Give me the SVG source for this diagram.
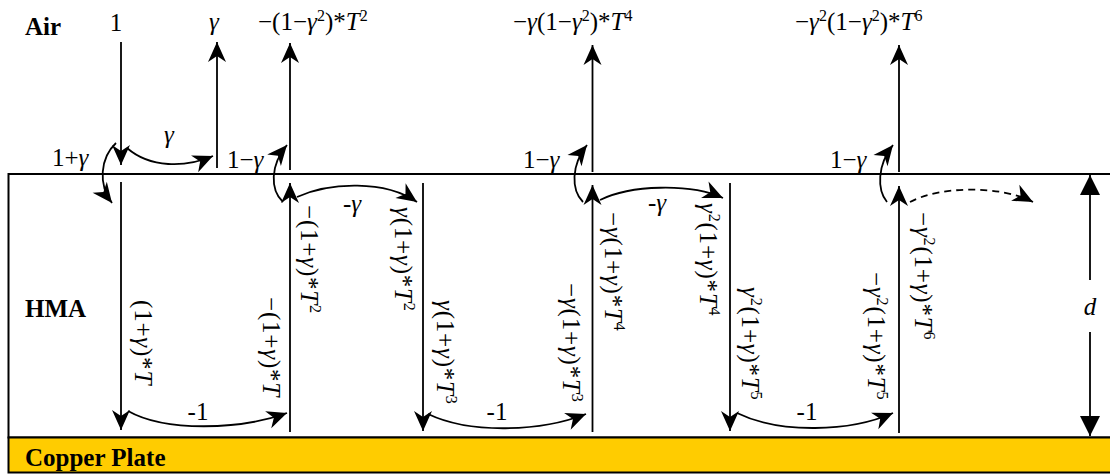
<svg xmlns="http://www.w3.org/2000/svg" width="1110" height="474" viewBox="0 0 1110 474">
<defs>
<marker id="ah" markerUnits="userSpaceOnUse" markerWidth="24" markerHeight="24" viewBox="-22 -11 24 22" refX="0" refY="0" orient="auto">
<path d="M0,0 L-20,-9 L-14,0 L-20,9 Z" fill="#000"/>
</marker>
<marker id="tri" markerUnits="userSpaceOnUse" markerWidth="24" markerHeight="24" viewBox="-22 -11 24 22" refX="0" refY="0" orient="auto">
<path d="M0,0 L-20,-10 L-20,10 Z" fill="#000"/>
</marker>
</defs>

<g id="layers">
<rect id="hma" x="8.5" y="174" width="1110" height="263.5" fill="#fff" stroke="#000" stroke-width="2"/>
<rect id="copper" x="8.5" y="437.5" width="1110" height="35" fill="#FFCC00" stroke="#000" stroke-width="2"/>
<text x="25" y="35" font-family="Liberation Serif" font-size="25" font-weight="bold">Air</text>
<text x="25" y="317" font-family="Liberation Serif" font-size="25" font-weight="bold">HMA</text>
<text x="25" y="466" font-family="Liberation Serif" font-size="25" font-weight="bold">Copper Plate</text>
</g>

<g id="connectors" stroke="#000" stroke-width="1.8" fill="none">
<line x1="121" y1="42" x2="121" y2="165" marker-end="url(#ah)"/>
<line x1="217" y1="168" x2="217" y2="42" marker-end="url(#ah)"/>
<line x1="290" y1="170" x2="290" y2="43" marker-end="url(#ah)"/>
<line x1="592.5" y1="172" x2="592.5" y2="45" marker-end="url(#ah)"/>
<line x1="899" y1="172" x2="899" y2="45" marker-end="url(#ah)"/>

<line x1="121" y1="182" x2="121" y2="430" marker-end="url(#ah)"/>
<line x1="290" y1="432" x2="290" y2="183" marker-end="url(#ah)"/>
<line x1="423" y1="183" x2="423" y2="431" marker-end="url(#ah)"/>
<line x1="592.5" y1="432" x2="592.5" y2="185" marker-end="url(#ah)"/>
<line x1="730" y1="183" x2="730" y2="431" marker-end="url(#ah)"/>
<line x1="899" y1="433" x2="899" y2="186" marker-end="url(#ah)"/>

<line x1="1090" y1="280" x2="1090" y2="175" marker-end="url(#tri)"/>
<line x1="1090" y1="332" x2="1090" y2="436" marker-end="url(#tri)"/>

<path d="M116,143 C100,158 98,185 112,203" marker-end="url(#ah)"/>
<path d="M127,148 C150,168 185,168 213,156" marker-end="url(#ah)"/>
<path d="M283,202 C270,190 270,165 287,145" marker-end="url(#ah)"/>
<path d="M297,197 C330,182 385,180 417,202" marker-end="url(#ah)"/>
<path d="M128,411 C165,432 240,430 287,413" marker-end="url(#ah)"/>
<path d="M583,202 C571,190 571,165 587,145" marker-end="url(#ah)"/>
<path d="M600,200 C630,185 690,183 723,198" marker-end="url(#ah)"/>
<path d="M428,414 C470,434 540,432 586,414" marker-end="url(#ah)"/>
<path d="M887,202 C877,190 877,165 893,145" marker-end="url(#ah)"/>
<path d="M910,202 C940,186 1000,185 1033,202" stroke-dasharray="7 5" marker-end="url(#ah)"/>
<path d="M737,413 C780,434 850,432 893,413" marker-end="url(#ah)"/>
</g>

<g id="labels">
<text x="116" y="31" text-anchor="middle" font-family="Liberation Serif" font-size="25">1</text>
<text x="214" y="30" text-anchor="middle" font-style="italic" font-family="Liberation Serif" font-size="25">γ</text>
<text x="258" y="30" font-family="Liberation Serif" font-size="25">−(1−<tspan font-style="italic">γ</tspan><tspan font-size="16" dy="-9">2</tspan><tspan dy="9">)*</tspan><tspan font-style="italic">T</tspan><tspan font-size="16" dy="-9">2</tspan></text>
<text x="513" y="30" font-family="Liberation Serif" font-size="25">−<tspan font-style="italic">γ</tspan>(1−<tspan font-style="italic">γ</tspan><tspan font-size="16" dy="-9">2</tspan><tspan dy="9">)*</tspan><tspan font-style="italic">T</tspan><tspan font-size="16" dy="-9">4</tspan></text>
<text x="795" y="30" font-family="Liberation Serif" font-size="25">−<tspan font-style="italic">γ</tspan><tspan font-size="16" dy="-9">2</tspan><tspan dy="9">(1−</tspan><tspan font-style="italic">γ</tspan><tspan font-size="16" dy="-9">2</tspan><tspan dy="9">)*</tspan><tspan font-style="italic">T</tspan><tspan font-size="16" dy="-9">6</tspan></text>

<text x="52" y="166" font-family="Liberation Serif" font-size="25">1+<tspan font-style="italic">γ</tspan></text>
<text x="227" y="168" font-family="Liberation Serif" font-size="25">1−<tspan font-style="italic">γ</tspan></text>
<text x="523" y="168" font-family="Liberation Serif" font-size="25">1−<tspan font-style="italic">γ</tspan></text>
<text x="830" y="168" font-family="Liberation Serif" font-size="25">1−<tspan font-style="italic">γ</tspan></text>
<text x="169" y="143" text-anchor="middle" font-style="italic" font-family="Liberation Serif" font-size="25">γ</text>
<text x="343" y="212" font-family="Liberation Serif" font-size="25">-<tspan font-style="italic">γ</tspan></text>
<text x="648" y="211" font-family="Liberation Serif" font-size="25">-<tspan font-style="italic">γ</tspan></text>
<text x="198" y="420" text-anchor="middle" font-family="Liberation Serif" font-size="25">-1</text>
<text x="497" y="420" text-anchor="middle" font-family="Liberation Serif" font-size="25">-1</text>
<text x="807" y="420" text-anchor="middle" font-family="Liberation Serif" font-size="25">-1</text>
<text x="1090" y="315" text-anchor="middle" font-style="italic" font-family="Liberation Serif" font-size="25">d</text>

<text transform="translate(135,300) rotate(90)" font-family="Liberation Serif" font-size="25" letter-spacing="0.8">(1+<tspan font-style="italic">γ</tspan>)*<tspan font-style="italic">T</tspan></text>
<text transform="translate(263,297) rotate(90)" font-family="Liberation Serif" font-size="25" letter-spacing="0.8">−(1+<tspan font-style="italic">γ</tspan>)*<tspan font-style="italic">T</tspan></text>
<text transform="translate(301,205) rotate(90)" font-family="Liberation Serif" font-size="25" letter-spacing="0.8">−(1+<tspan font-style="italic">γ</tspan>)*<tspan font-style="italic">T</tspan><tspan font-size="16" dy="-9">2</tspan></text>
<text transform="translate(395,207) rotate(90)" font-family="Liberation Serif" font-size="25" letter-spacing="0.8"><tspan font-style="italic">γ</tspan>(1+<tspan font-style="italic">γ</tspan>)*<tspan font-style="italic">T</tspan><tspan font-size="16" dy="-9">2</tspan></text>
<text transform="translate(437,300) rotate(90)" font-family="Liberation Serif" font-size="25" letter-spacing="0.8"><tspan font-style="italic">γ</tspan>(1+<tspan font-style="italic">γ</tspan>)*<tspan font-style="italic">T</tspan><tspan font-size="16" dy="-9">3</tspan></text>
<text transform="translate(563,283) rotate(90)" font-family="Liberation Serif" font-size="25" letter-spacing="0.8">−<tspan font-style="italic">γ</tspan>(1+<tspan font-style="italic">γ</tspan>)*<tspan font-style="italic">T</tspan><tspan font-size="16" dy="-9">3</tspan></text>
<text transform="translate(605,212) rotate(90)" font-family="Liberation Serif" font-size="25" letter-spacing="0.8">−<tspan font-style="italic">γ</tspan>(1+<tspan font-style="italic">γ</tspan>)*<tspan font-style="italic">T</tspan><tspan font-size="16" dy="-9">4</tspan></text>
<text transform="translate(700,203) rotate(90)" font-family="Liberation Serif" font-size="25" letter-spacing="0.8"><tspan font-style="italic">γ</tspan><tspan font-size="16" dy="-9">2</tspan><tspan dy="9">(1+</tspan><tspan font-style="italic">γ</tspan>)*<tspan font-style="italic">T</tspan><tspan font-size="16" dy="-9">4</tspan></text>
<text transform="translate(742,287) rotate(90)" font-family="Liberation Serif" font-size="25" letter-spacing="0.8"><tspan font-style="italic">γ</tspan><tspan font-size="16" dy="-9">2</tspan><tspan dy="9">(1+</tspan><tspan font-style="italic">γ</tspan>)*<tspan font-style="italic">T</tspan><tspan font-size="16" dy="-9">5</tspan></text>
<text transform="translate(868,272) rotate(90)" font-family="Liberation Serif" font-size="25" letter-spacing="0.8">−<tspan font-style="italic">γ</tspan><tspan font-size="16" dy="-9">2</tspan><tspan dy="9">(1+</tspan><tspan font-style="italic">γ</tspan>)*<tspan font-style="italic">T</tspan><tspan font-size="16" dy="-9">5</tspan></text>
<text transform="translate(915,212) rotate(90)" font-family="Liberation Serif" font-size="25" letter-spacing="0.8">−<tspan font-style="italic">γ</tspan><tspan font-size="16" dy="-9">2</tspan><tspan dy="9">(1+</tspan><tspan font-style="italic">γ</tspan>)*<tspan font-style="italic">T</tspan><tspan font-size="16" dy="-9">6</tspan></text>
</g>
</svg>
